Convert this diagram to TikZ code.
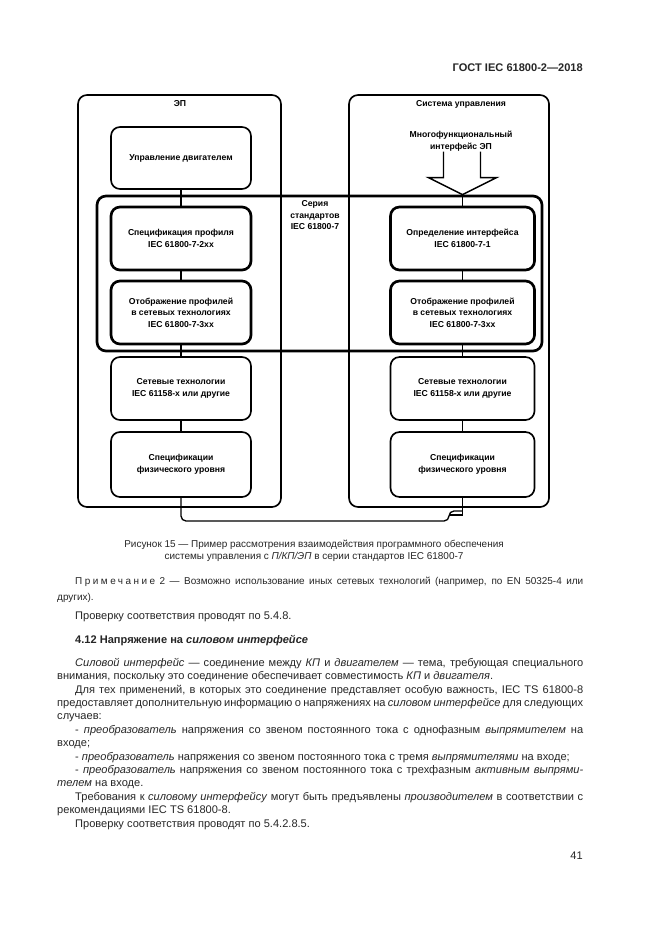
\documentclass[tikz,border=0pt]{standalone}
\usepackage{fontspec}
\setmainfont{Liberation Sans}
\usetikzlibrary{positioning}
\newlength\pxu
\setlength\pxu{0.3177mm}
\setlength\parindent{0pt}
\setlength\parskip{0pt}

\begin{document}
\begin{tikzpicture}[x=\pxu,y=-\pxu,
    box font/.style={font=\fontsize{7.8}{10.4}\selectfont\bfseries},
    frame/.style={draw,rounded corners=9\pxu,line width=1.5pt},
    plain box/.style={frame,box font,align=center,minimum width=140\pxu,minimum height=63\pxu,inner sep=1pt},
    thick box/.style={plain box,line width=2.4pt},
    label text/.style={box font,align=center,inner sep=0pt},
    link/.style={-,line width=1.2pt},
    page text/.style={anchor=north west,inner sep=0pt,text width=526\pxu,align=justify,text=black!85,font=\fontsize{10}{12.1}\selectfont}]
  \useasboundingbox[fill=white] (0,0) rectangle (661,935);
  \node[anchor=north east,inner sep=0pt,text=black!85,font=\fontsize{10}{12}\selectfont\bfseries] (gost) at (583,64) {ГОСТ IEC 61800-2—2018};
  % frames
  \node[frame,minimum width=203\pxu,minimum height=412\pxu] (ep) at (179.5,301) {};
  \node[frame,minimum width=200\pxu,minimum height=412\pxu] (su) at (449,301) {};
  \node[label text] (eptitle) at (180,104) {ЭП};
  \node[label text] (sutitle) at (461,104) {Система управления};
  \node[frame,line width=2.4pt,minimum width=445\pxu,minimum height=155\pxu] (ser) at (319.5,273.5) {};
  \node[label text] (sertitle) at (315,215.5) {Серия\\стандартов\\IEC 61800-7};
  % left column
  \node[plain box,minimum height=62\pxu] (upr) at (181,158) {Управление двигателем};
  \node[thick box] (specL) at (181,238.5) {Спецификация профиля\\IEC 61800-7-2xx};
  \node[thick box] (mapL) at (181,312.5) {Отображение профилей\\в сетевых технологиях\\IEC 61800-7-3xx};
  \node[plain box] (netL) at (181,388.5) {Сетевые технологии\\IEC 61158-x или другие};
  \node[plain box,minimum height=65\pxu] (phyL) at (181,464.5) {Спецификации\\физического уровня};
  % right column
  \node[label text] (mfi) at (461,141) {Многофункциональный\\интерфейс ЭП};
  \node[thick box,minimum width=144\pxu] (defR) at (462.5,238.5) {Определение интерфейса\\IEC 61800-7-1};
  \node[thick box,minimum width=144\pxu] (mapR) at (462.5,312.5) {Отображение профилей\\в сетевых технологиях\\IEC 61800-7-3xx};
  \node[plain box,minimum width=144\pxu] (netR) at (462.5,388.5) {Сетевые технологии\\IEC 61158-x или другие};
  \node[plain box,minimum width=144\pxu,minimum height=65\pxu] (phyR) at (462.5,464.5) {Спецификации\\физического уровня};
  \coordinate (tip) at (defR.north |- ser.north);
  \draw[link,line width=1.3pt] (tip) ++(-19,-43) -- ++(0,26) -- ++(-15,0) -- (tip) -- ++(34,-17) -- ++(-16,0) -- ++(0,-26);
  \path[link] (upr) edge (specL);
  \path[link] (specL) edge (mapL);
  \path[link] (mapL) edge (netL);
  \path[link] (netL) edge (phyL);
  \path[link] (tip) edge (defR.north);
  \path[link] (defR) edge (mapR);
  \path[link] (mapR) edge (netR);
  \path[link] (netR) edge (phyR);
  \draw[link,rounded corners=5\pxu] (phyL.south) -- (phyL.south |- 0,521) -- (449,521) -- (449,511) -- (phyR.south |- 0,511);
  \draw[link] (phyR.south) -- (phyR.south |- 0,515) -- (449,515);
  % page text
  \node[inner sep=0pt,align=center,text=black!85,font=\fontsize{9}{11.2}\selectfont] (caption) at (314,551) {Рисунок 15 — Пример рассмотрения взаимодействия программного обеспечения\\системы управления с \textit{П/КП/ЭП} в серии стандартов IEC 61800-7};
  \node[page text,font=\fontsize{9}{14}\selectfont] (note) at (57,577) {\hspace*{18\pxu}{\addfontfeature{LetterSpace=25}Примечание} 2 — Возможно использование иных сетевых технологий (например, по EN 50325-4 или\linebreak других).};
  \node[page text] (check1) at (57,612) {\hspace*{18\pxu}Проверку соответствия проводят по 5.4.8.};
  \node[page text,font=\fontsize{10}{12}\selectfont\bfseries] (sec) at (57,635) {\hspace*{18\pxu}4.12 Напряжение на \textit{силовом интерфейсе}};
  \node[page text] (body) at (57,658) {%
    \hspace*{18\pxu}\textit{Силовой интерфейс} — соединение между \textit{КП} и \textit{двигателем} — тема, требующая специального\linebreak внимания, поскольку это соединение обеспечивает совместимость \textit{КП} и \textit{двигателя}.\par
    \hspace*{18\pxu}Для тех применений, в которых это соединение представляет особую важность, IEC TS 61800-8\linebreak предоставляет дополнительную информацию о напряжениях на \textit{силовом интерфейсе} для следующих\linebreak случаев:\par
    \hspace*{18\pxu}- \textit{преобразователь} напряжения со звеном постоянного тока с однофазным \textit{выпрямителем} на\linebreak входе;\par
    \hspace*{18\pxu}- \textit{преобразователь} напряжения со звеном постоянного тока с тремя \textit{выпрямителями} на входе;\par
    \hspace*{18\pxu}- \textit{преобразователь} напряжения со звеном постоянного тока с трехфазным \textit{активным выпрями-}\linebreak \textit{телем} на входе.\par
    \hspace*{18\pxu}Требования к \textit{силовому интерфейсу} могут быть предъявлены \textit{производителем} в соответствии с\linebreak рекомендациями IEC TS 61800-8.\par
    \hspace*{18\pxu}Проверку соответствия проводят по 5.4.2.8.5.};
  \node[anchor=north east,inner sep=0pt,text=black!85,font=\fontsize{10}{12}\selectfont] (pageno) at (583,852) {41};
\end{tikzpicture}
\end{document}
